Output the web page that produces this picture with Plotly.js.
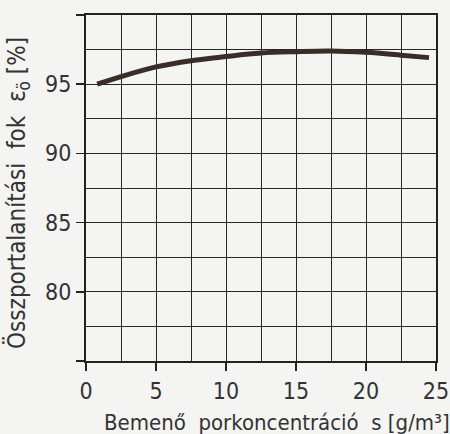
<!DOCTYPE html>
<html>
<head>
<meta charset="utf-8">
<script src="https://cdn.plot.ly/plotly-3.0.1.min.js"></script>
<style>html,body{margin:0;padding:0;background:#f4f4f2;}#chart{width:450px;height:434px;}</style>
</head>
<body>
<div id="chart"></div>
<script>
// Data
const concentration = [0.8, 2.5, 5, 7.5, 10, 12.5, 15, 17.5, 20, 22.5, 24.5];
const efficiency = [95.0, 95.55, 96.25, 96.7, 97.0, 97.25, 97.35, 97.4, 97.3, 97.1, 96.92];
const xTickVals = [0, 5, 10, 15, 20, 25];
const xTickText = ['0', '5', '10', '15', '20', '25'];
const yTickVals = [75, 80, 85, 90, 95, 100];
const yTickText = ['', '80', '85', '90', '95', ''];
const xTitle = 'Bemenő&nbsp; porkoncentráció&nbsp; s [g/m³]';
const yTitle = 'Összportalanítási&nbsp; fok&nbsp; ε<sub>ö</sub> [%]';

const font = 'DejaVu Sans Condensed, DejaVu Sans, sans-serif';
const ink = '#222';

const trace = {
  x: concentration, y: efficiency, type: 'scatter', mode: 'lines',
  line: {color: '#3b2c2a', width: 5, shape: 'spline', smoothing: 1},
  hoverinfo: 'skip'
};

const axisCommon = {
  showline: true, linecolor: ink, linewidth: 2, mirror: true,
  showgrid: true, gridcolor: '#262626', gridwidth: 1,
  ticks: 'outside', ticklen: 8, tickwidth: 1.5, tickcolor: ink,
  zeroline: false, tickfont: {family: font, size: 23, color: '#333'},
  minor: {dtick: 2.5, showgrid: true, gridcolor: '#262626', gridwidth: 1, ticks: ''}
};

const layout = {
  width: 450, height: 434,
  margin: {l: 86, r: 14, t: 15, b: 73},
  paper_bgcolor: '#f4f4f2', plot_bgcolor: '#f4f4f2',
  showlegend: false,
  xaxis: Object.assign({}, axisCommon, {
    range: [0, 25], tickmode: 'array', tickvals: xTickVals, ticktext: xTickText,
    minor: Object.assign({}, axisCommon.minor, {tick0: 0})
  }),
  yaxis: Object.assign({}, axisCommon, {
    range: [75, 100], tickmode: 'array', tickvals: yTickVals, ticktext: yTickText,
    minor: Object.assign({}, axisCommon.minor, {tick0: 75})
  }),
  annotations: [
    {text: xTitle, xref: 'paper', yref: 'paper', x: 0.546, y: 0, yshift: -61,
     xanchor: 'center', yanchor: 'middle', showarrow: false,
     font: {family: font, size: 22, color: '#333'}},
    {text: yTitle, xref: 'paper', yref: 'paper', x: -0.194, y: 0.486,
     xanchor: 'center', yanchor: 'middle', showarrow: false, textangle: -90,
     font: {family: font, size: 24, color: '#333'}}
  ]
};

Plotly.newPlot('chart', [trace], layout, {staticPlot: true, displayModeBar: false});
</script>
</body>
</html>
